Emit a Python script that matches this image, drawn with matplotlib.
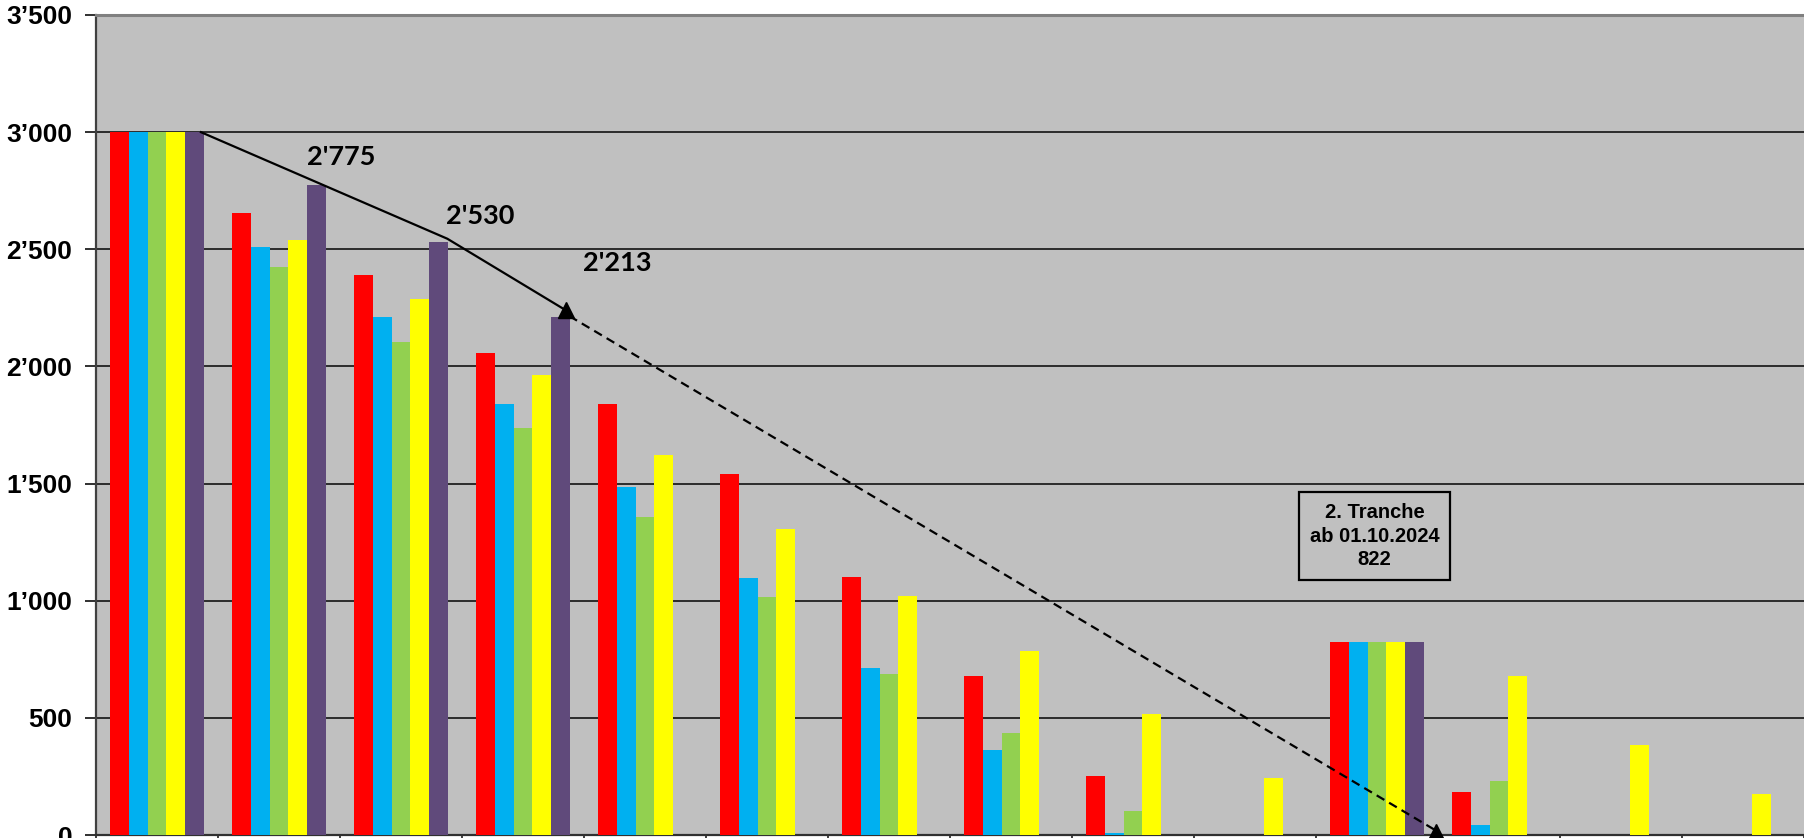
import numpy as np
import matplotlib
matplotlib.use("Agg")
import matplotlib.pyplot as plt

# 14 periods, the category labels are cut off in the source picture
periods = list(range(1, 15))

series_names = ["Serie 1", "Serie 2", "Serie 3", "Serie 4", "Serie 5"]
colors = ["#FF0000", "#00B0F0", "#92D050", "#FFFF00", "#604A7B"]

red = [3000, 2657, 2390, 2057, 1839, 1539, 1101, 677, 253, 0, 822, 185, 0, 0]
blue = [3000, 2511, 2213, 1840, 1487, 1099, 713, 362, 7, 0, 822, 44, 0, 0]
green = [3000, 2424, 2105, 1737, 1359, 1016, 688, 437, 102, 0, 822, 230, 0, 0]
yellow = [3000, 2540, 2286, 1964, 1621, 1307, 1020, 785, 518, 245, 822, 679, 384, 176]
purple = [3000, 2775, 2530, 2213, 0, 0, 0, 0, 0, 0, 822, 0, 0, 0]
series = [red, blue, green, yellow, purple]

# trend line through the purple series
trend_x = [0.36, 2.38, 3.35]
trend_y = [3000, 2545, 2240]
forecast_x = [3.38, 10.48]
forecast_y = [2215, 20]

labels = ["2'775", "2'530", "2'213"]
label_x = [1.51, 2.65, 3.77]
label_y = [2894, 2643, 2440]

yticks = [0, 500, 1000, 1500, 2000, 2500, 3000, 3500]
ytick_labels = ["0", "500", "1\u2019000", "1\u2019500", "2\u2019000", "2\u2019500", "3\u2019000", "3\u2019500"]

fig = plt.figure(figsize=(18.04, 8.38), dpi=100, facecolor="white")
ax = fig.add_axes([96 / 1804, 3 / 838, 1 - 96 / 1804, 820 / 838])
ax.set_facecolor("#C0C0C0")

x = np.arange(len(periods))
w = 0.154
for k, vals in enumerate(series):
    ax.bar(x + (k - 2) * w, vals, width=w, color=colors[k], label=series_names[k], zorder=3)

ax.set_xlim(-0.5, len(periods) - 0.5)
ax.set_ylim(0, 3500)

ax.set_yticks(yticks)
ax.set_yticklabels(ytick_labels, fontsize=19, fontweight="bold", family="Liberation Sans")
ax.tick_params(axis="y", length=8, width=1.3, pad=9, color="#202020")
ax.set_xticks(np.arange(-0.5, len(periods)))
ax.set_xticklabels([])
ax.tick_params(axis="x", length=8, width=1.3, color="#303030")

for yv in yticks[1:-1]:
    ax.axhline(yv, color="#2b2b2b", lw=1.4, zorder=1)

ax.spines["top"].set_color("#808080")
ax.spines["top"].set_linewidth(2.2)
ax.spines["left"].set_color("#404040")
ax.spines["left"].set_linewidth(1.6)
ax.spines["bottom"].set_color("#303030")
ax.spines["bottom"].set_linewidth(1.6)
ax.spines["right"].set_visible(False)

# trend arrows
ax.plot(trend_x, trend_y, color="black", lw=1.6, zorder=5)
ax.plot(forecast_x, forecast_y, color="black", lw=1.6, dashes=(4, 2.5), zorder=5)
ax.plot([trend_x[-1]], [trend_y[-1]], marker="^", color="black", markersize=11, zorder=6)
ax.plot([forecast_x[-1]], [forecast_y[-1] - 8], marker="^", color="black", markersize=11,
        zorder=6, clip_on=False)

for t, tx, ty in zip(labels, label_x, label_y):
    ax.text(tx, ty, t, fontsize=19.5, fontweight="bold", family="Lato",
            ha="center", va="center", zorder=7)

ax.text(9.98, 1276, "2. Tranche\nab 01.10.2024\n822", fontsize=14.5, fontweight="bold",
        family="Liberation Sans", ha="center", va="center", linespacing=1.3, zorder=7,
        bbox=dict(boxstyle="square,pad=0.55", facecolor="#C0C0C0", edgecolor="black", lw=1.6))

fig.savefig("out.png", dpi=100, facecolor="white")
